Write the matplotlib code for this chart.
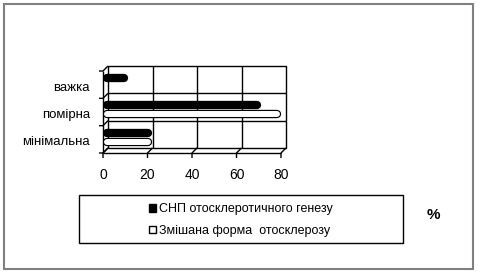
import matplotlib.pyplot as plt
import matplotlib.transforms as mtransforms
from matplotlib.patches import Rectangle, Patch

plt.rcParams["font.family"] = ["Liberation Sans", "DejaVu Sans"]

categories = ["мінімальна", "помірна", "важка"]
series_names = ["СНП отосклеротичного генезу", "Змішана форма  отосклерозу"]
snp_values = [22, 71, 11]
mixed_values = [22, 80, 0]
x_ticks = [0, 20, 40, 60, 80]

fig = plt.figure(figsize=(4.8, 2.76), dpi=100)
W, H = 480, 276

# front plane of the 3D box
ax = fig.add_axes([103 / W, 1 - 153 / H, 178 / W, 82 / H])
ax.set_xlim(0, 80)
ax.set_ylim(-0.5, 2.5)
ax.axis("off")

depth = mtransforms.ScaledTranslation(5 / 100, 5 / 100, fig.dpi_scale_trans)
back = ax.transData + depth
lw = 1.0
kw = dict(color="black", lw=lw, clip_on=False, solid_capstyle="butt")

# back wall
ax.plot([0, 80, 80, 0, 0], [-0.5, -0.5, 2.5, 2.5, -0.5], transform=back, **kw)
for x in x_ticks[1:-1]:
    ax.plot([x, x], [-0.5, 2.5], transform=back, **kw)
for y in [0.5, 1.5]:
    ax.plot([0, 80], [y, y], transform=back, **kw)

# floor and left wall edges
ax.plot([0, 80], [-0.5, -0.5], **kw)
ax.plot([0, 0], [-0.5, 2.5], **kw)
tick_tr = mtransforms.ScaledTranslation(0, -5 / 100, fig.dpi_scale_trans)
left_tr = mtransforms.ScaledTranslation(-4 / 100, 0, fig.dpi_scale_trans)
label_tr = mtransforms.ScaledTranslation(0, -22 / 100, fig.dpi_scale_trans)
inv = ax.transData.inverted()
for x in x_ticks:
    a = ax.transData.transform((x, -0.5))
    b = back.transform((x, -0.5))
    c = (ax.transData + tick_tr).transform((x, -0.5))
    a, b, c = inv.transform([a, b, c])
    ax.plot([c[0], a[0], b[0]], [c[1], a[1], b[1]], **kw)
    ax.text(x, -0.5, str(x), transform=ax.transData + label_tr,
            ha="center", va="center", fontsize=10)
for y in [-0.5, 0.5, 1.5, 2.5]:
    a = ax.transData.transform((0, y))
    b = back.transform((0, y))
    c = (ax.transData + left_tr).transform((0, y))
    a, b, c = inv.transform([a, b, c])
    ax.plot([c[0], a[0], b[0]], [c[1], a[1], b[1]], **kw)

cat_tr = mtransforms.ScaledTranslation(-13 / 100, -3 / 100, fig.dpi_scale_trans)
for i, cat in enumerate(categories):
    ax.text(0, i, cat, transform=ax.transData + cat_tr,
            ha="right", va="center", fontsize=9.5)

# cylinder-like bars
r = 1.7
for i, v in enumerate(snp_values):
    if v > 0:
        ax.plot([r, v - r], [i + 0.25, i + 0.25], color="black", lw=6,
                solid_capstyle="round", clip_on=False)
for i, v in enumerate(mixed_values):
    if v > 0:
        ax.plot([r, v - r], [i - 0.08, i - 0.08], color="black", lw=6,
                solid_capstyle="round", clip_on=False)
        ax.plot([r, v - r], [i - 0.08, i - 0.08], color="white", lw=4.3,
                solid_capstyle="round", clip_on=False)

# legend box
fig.patches.append(Rectangle((79 / W, 1 - 243 / H), 324 / W, 48 / H,
                             transform=fig.transFigure, fill=False,
                             edgecolor="black", lw=1))
handles = [Patch(facecolor="black", edgecolor="black"),
           Patch(facecolor="white", edgecolor="black")]
fig.legend(handles, series_names, loc="center",
           bbox_to_anchor=(241 / W, 1 - 220 / H), frameon=False,
           fontsize=9, handlelength=0.55, handleheight=0.55,
           handletextpad=0.2, labelspacing=0.75)

fig.text(433 / W, 1 - 215 / H, "%", ha="center", va="center",
         fontsize=11, fontweight="bold")

# outer border
fig.patches.append(Rectangle((4 / W, 1 - 269 / H), 469 / W, 265 / H,
                             transform=fig.transFigure, fill=False,
                             edgecolor="#808080", lw=1.5))

fig.savefig("out.png", dpi=100)
